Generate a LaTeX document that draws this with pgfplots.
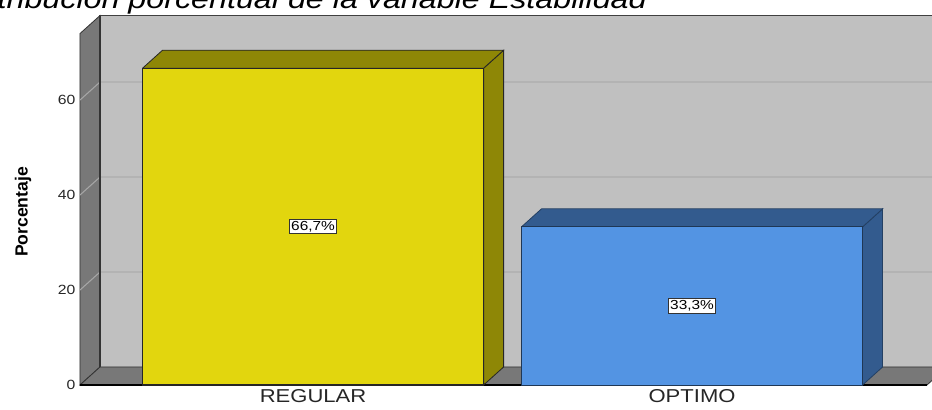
\documentclass[border=0pt]{standalone}
\usepackage{pgfplots}
\pgfplotsset{compat=1.18}
\usepackage{pgfplotstable}
\usepackage{fontspec}
\setmainfont{Liberation Sans}[FakeStretch=1.18]
\newfontfamily\plainsans{Liberation Sans}
\definecolor{wallback}{HTML}{C0C0C0}
\definecolor{walldark}{HTML}{787878}
\definecolor{gridback}{HTML}{B3B3B3}
\definecolor{gridside}{HTML}{A6A6A6}
\definecolor{ylwF}{HTML}{E2D60E}
\definecolor{ylwD}{HTML}{8E8706}
\definecolor{bluF}{HTML}{5394E3}
\definecolor{bluD}{HTML}{335B8E}

\pgfplotstableread{
x y
0 66.7
}\regular
\pgfplotstableread{
x y
1 33.3
}\optimo

\begin{document}
\begin{tikzpicture}
\useasboundingbox (-60pt,-18.75pt) rectangle (639pt,288.75pt);
\clip (-60pt,-18.75pt) rectangle (639pt,288.75pt);
\node[anchor=base east, font=\fontsize{20.5pt}{24pt}\selectfont\itshape, inner sep=0pt] at (425.25pt,282pt) {Distribución porcentual de la variable Estabilidad};
\begin{axis}[
  at={(0pt,0pt)}, anchor=south west,
  scale only axis, width=635.25pt, height=263.6pt,
  xmin=-0.615, xmax=1.62, ymin=0, ymax=74,
  clip=false,
  axis line style={draw=none},
  major tick length=0pt,
  ytick={0,20,40,60},
  xtick={0,1}, xticklabels={REGULAR,OPTIMO},
  yticklabel style={font=\fontsize{10pt}{11pt}\selectfont, text=black!85},
  xticklabel style={font=\fontsize{14pt}{16pt}\selectfont, text=black!85},
  /pgf/number format/assume math mode=true,
]
% back wall
\fill[wallback] (axis cs:-0.5622,3.79) rectangle (axis cs:1.6728,77.79);
\draw[gridback, line width=1.1pt] (axis cs:-0.5622,23.79) -- (axis cs:1.6728,23.79);
\draw[gridback, line width=1.1pt] (axis cs:-0.5622,43.79) -- (axis cs:1.6728,43.79);
\draw[gridback, line width=1.1pt] (axis cs:-0.5622,63.79) -- (axis cs:1.6728,63.79);
\draw[black!75, line width=1pt] (axis cs:-0.5622,3.79) -- (axis cs:-0.5622,77.79) -- (axis cs:1.6728,77.79);
% left wall
\filldraw[fill=walldark, draw=black!80, line width=0.6pt] (axis cs:-0.615,0) -- (axis cs:-0.5622,3.79) -- (axis cs:-0.5622,77.79) -- (axis cs:-0.615,74) -- cycle;
\draw[gridside, line width=0.8pt] (axis cs:-0.615,20) -- (axis cs:-0.5622,23.79);
\draw[gridside, line width=0.8pt] (axis cs:-0.615,40) -- (axis cs:-0.5622,43.79);
\draw[gridside, line width=0.8pt] (axis cs:-0.615,60) -- (axis cs:-0.5622,63.79);
\draw[black!80, line width=1pt] (axis cs:-0.5622,3.79) -- (axis cs:-0.5622,77.79);
% floor
\filldraw[fill=walldark, draw=black!80, line width=0.6pt] (axis cs:-0.615,0) -- (axis cs:1.62,0) -- (axis cs:1.6728,3.79) -- (axis cs:-0.5622,3.79) -- cycle;
\draw[black, line width=1.2pt] (axis cs:-0.615,0) -- (axis cs:1.62,0);

% REGULAR bar: side, top, front
\addplot[fill=ylwD, draw=black!85, line width=0.6pt] coordinates {(0.45,0) (0.5028,3.79) (0.5028,70.49) (0.45,66.7) (0.45,0)};
\addplot[fill=ylwD, draw=black!85, line width=0.6pt] coordinates {(-0.45,66.7) (-0.3972,70.49) (0.5028,70.49) (0.45,66.7) (-0.45,66.7)};
\addplot[ybar, bar width=0.9, bar shift=0pt, fill=ylwF, draw=black!85, line width=0.8pt] table[x=x,y=y] {\regular};
% OPTIMO bar
\addplot[fill=bluD, draw=bluD!70!black, line width=0.6pt] coordinates {(1.45,0) (1.5028,3.79) (1.5028,37.09) (1.45,33.3) (1.45,0)};
\addplot[fill=bluD, draw=bluD!70!black, line width=0.6pt] coordinates {(0.55,33.3) (0.6028,37.09) (1.5028,37.09) (1.45,33.3) (0.55,33.3)};
\addplot[ybar, bar width=0.9, bar shift=0pt, fill=bluF, draw=bluD!60!black, line width=0.6pt] table[x=x,y=y] {\optimo};

\node[fill=white, draw=black!80, line width=0.8pt, inner sep=1.4pt, font=\fontsize{9.8pt}{10.5pt}\selectfont] at (axis cs:0,33.35) {66,7\%};
\node[fill=white, draw=black!80, line width=0.8pt, inner sep=1.4pt, font=\fontsize{9.8pt}{10.5pt}\selectfont] at (axis cs:1,16.65) {33,3\%};
\end{axis}
\node[rotate=90, font=\plainsans\bfseries\fontsize{13.2pt}{15pt}\selectfont] at (-42.75pt,129.75pt) {Porcentaje};
\end{tikzpicture}
\end{document}
